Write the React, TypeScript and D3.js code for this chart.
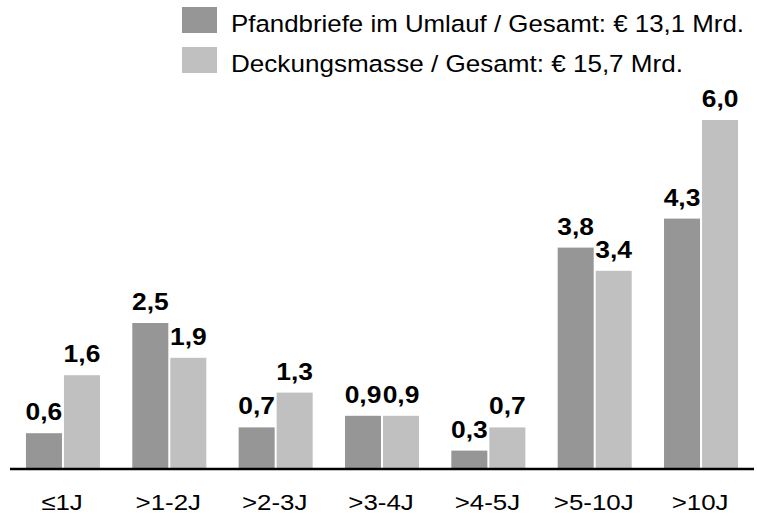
import * as d3 from 'd3';

const categories = ['≤1J', '>1-2J', '>2-3J', '>3-4J', '>4-5J', '>5-10J', '>10J'];
const pfandbriefe = [0.6, 2.5, 0.7, 0.9, 0.3, 3.8, 4.3];
const deckungsmasse = [1.6, 1.9, 1.3, 0.9, 0.7, 3.4, 6.0];
const seriesNames = ['Pfandbriefe im Umlauf / Gesamt: € 13,1 Mrd.', 'Deckungsmasse / Gesamt: € 15,7 Mrd.'];
const seriesColors = ['#969696', '#c0c0c0'];

const width = 757;
const height = 516;
const font = "'Liberation Sans', Arial, sans-serif";

const fmt = (v: number) => v.toFixed(1).replace('.', ',');

const App = () => {
  const x = d3.scaleBand().domain(categories).range([10, 754]).paddingInner(0.304).paddingOuter(0.15);
  const xInner = d3.scaleBand().domain(['0', '1']).range([0, x.bandwidth()]).paddingInner(0.0526);
  const y = d3.scaleLinear().domain([0, 6]).range([468, 120]);

  const series = [pfandbriefe, deckungsmasse];
  // legend text widths
  const legendWidths = [513, 452];
  const legendBase = [31.5, 71.5];

  return (
    <svg
      width={width}
      height={height}
      style={{ position: 'absolute', left: 0, top: 0, background: '#fff' }}
      fontFamily={font}
    >
      {seriesNames.map((name, i) => (
        <g key={name}>
          <rect x={182} y={legendBase[i] - 24.5} width={35} height={26} fill={seriesColors[i]} />
          <text
            x={231}
            y={legendBase[i]}
            fontSize={24.5}
            textLength={legendWidths[i]}
            lengthAdjust="spacingAndGlyphs"
            fill="#000"
          >
            {name}
          </text>
        </g>
      ))}

      {categories.map((c, ci) => (
        <g key={c} transform={`translate(${x(c)},0)`}>
          {series.map((vals, si) => {
            const bx = xInner(String(si)) as number;
            const v = vals[ci];
            const cx = bx + xInner.bandwidth() / 2;
            return (
              <g key={si}>
                <rect x={bx} y={y(v)} width={xInner.bandwidth()} height={y(0) - y(v)} fill={seriesColors[si]} />
                <text
                  transform={`translate(${cx},${y(v) - 13}) scale(1.1,1)`}
                  textAnchor="middle"
                  fontSize={24}
                  fontWeight="bold"
                  fill="#000"
                >
                  {fmt(v)}
                </text>
              </g>
            );
          })}
          <text
            transform={`translate(${x.bandwidth() / 2 - 1},510) scale(1.15,1)`}
            textAnchor="middle"
            fontSize={22.5}
            fill="#000"
          >
            {c}
          </text>
        </g>
      ))}

      <line x1={10} x2={754} y1={469} y2={469} stroke="#000" strokeWidth={2.5} />
    </svg>
  );
};

export default App;
